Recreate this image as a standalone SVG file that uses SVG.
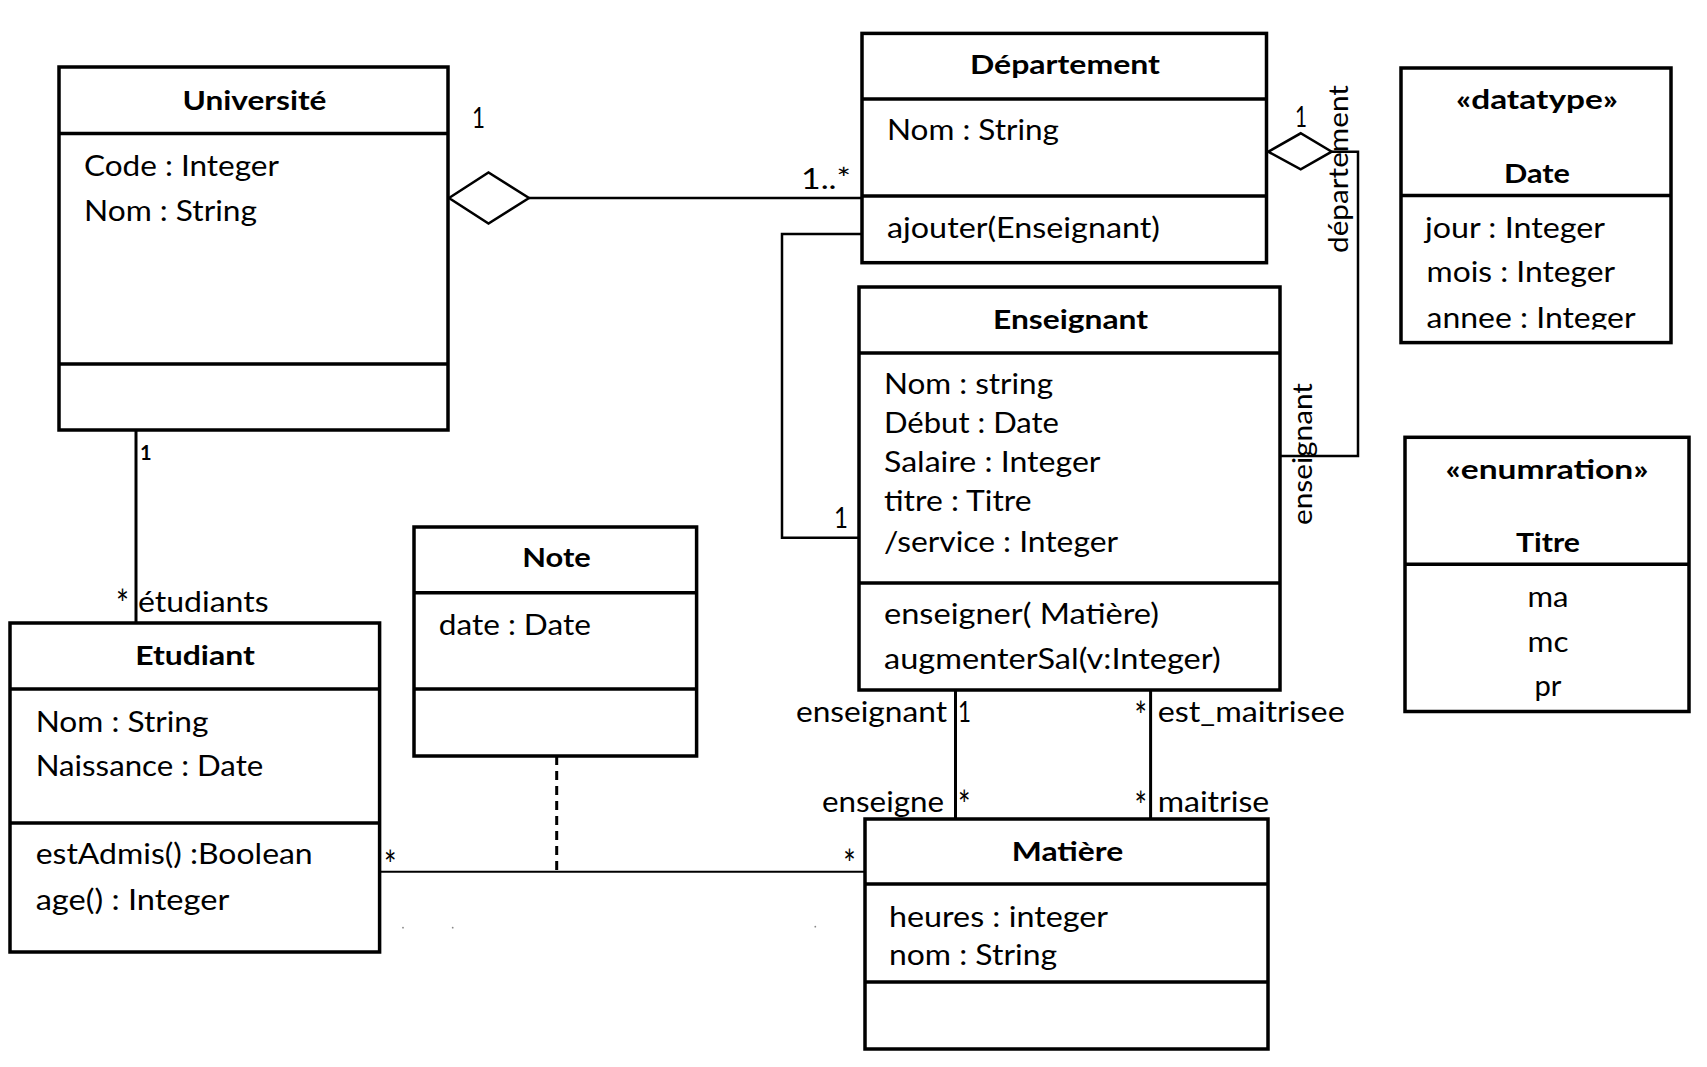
<svg xmlns="http://www.w3.org/2000/svg" width="1707" height="1067" viewBox="0 0 1707 1067">
<style>
.box{fill:#fff;stroke:#000;stroke-width:3.5}
.sep{stroke:#000;stroke-width:3.5;fill:none}
.t{font-family:Lato,'Liberation Sans',sans-serif;font-size:28px;fill:#000}
.b{font-weight:bold;font-size:27px}
.c{text-anchor:middle}
.e{text-anchor:end}
.star{font-size:38px}
.conn{fill:none;stroke:#000;stroke-width:2.5}
.dia{fill:#fff;stroke:#000;stroke-width:2.5}
.dash{fill:none;stroke:#000;stroke-width:3;stroke-dasharray:9 6}
</style>
<defs>
<clipPath id="dateClip"><rect x="1403" y="197" width="266" height="132.5"/></clipPath>
</defs>
<rect width="1707" height="1067" fill="#fff"/>

<g id="connectors">
  <!-- Université - Département aggregation -->
  <line class="conn" x1="529" y1="198" x2="862" y2="198"/>
  <polygon class="dia" points="449,198 488.5,172.5 529,198 488.5,223.5"/>
  <text class="t" x="472" y="128" textLength="13" lengthAdjust="spacingAndGlyphs">1</text>
  <text class="t" x="801" y="188.7" textLength="50" lengthAdjust="spacingAndGlyphs">1..*</text>
  <!-- Université - Etudiant -->
  <line class="conn" x1="136" y1="430" x2="136" y2="623" style="stroke-width:3"/>
  <text class="t" x="140" y="460" style="font-size:20px;font-weight:bold">1</text>
  <text class="t star" x="116" y="618" textLength="13" lengthAdjust="spacingAndGlyphs">*</text>
  <text class="t" x="138" y="612" textLength="130.6" lengthAdjust="spacingAndGlyphs">étudiants</text>
  <!-- Département ajouter - Enseignant -->
  <polyline class="conn" points="862,234 782,234 782,537.7 859,537.7"/>
  <text class="t" x="834" y="528" textLength="14" lengthAdjust="spacingAndGlyphs">1</text>
  <!-- Département diamond - Enseignant -->
  <polyline class="conn" points="1331.7,151.7 1358,151.7 1358,456 1280,456"/>
  <polygon class="dia" points="1268.3,151.7 1300.7,133.3 1331.7,151.7 1300.7,169.3"/>
  <text class="t" x="1295" y="126.7" textLength="12" lengthAdjust="spacingAndGlyphs">1</text>
  <text class="t c" transform="translate(1348,169) rotate(-90)" style="font-size:26px" textLength="168" lengthAdjust="spacingAndGlyphs">département</text>
  <text class="t c" transform="translate(1312,454) rotate(-90)" style="font-size:27px" textLength="142" lengthAdjust="spacingAndGlyphs">enseignant</text>
  <!-- Enseignant - Matière -->
  <line class="conn" x1="955.5" y1="690" x2="955.5" y2="819" style="stroke-width:3"/>
  <line class="conn" x1="1150.6" y1="690" x2="1150.6" y2="819" style="stroke-width:3"/>
  <text class="t e" x="947" y="722" textLength="151" lengthAdjust="spacingAndGlyphs">enseignant</text>
  <text class="t" x="958" y="722" textLength="13" lengthAdjust="spacingAndGlyphs">1</text>
  <text class="t e star" x="1147" y="730" textLength="12.5" lengthAdjust="spacingAndGlyphs">*</text>
  <text class="t" x="1157.7" y="722" textLength="187" lengthAdjust="spacingAndGlyphs">est_maitrisee</text>
  <text class="t e" x="944" y="811.7" textLength="122" lengthAdjust="spacingAndGlyphs">enseigne</text>
  <text class="t star" x="958" y="819" textLength="12.5" lengthAdjust="spacingAndGlyphs">*</text>
  <text class="t e star" x="1147" y="820" textLength="12.5" lengthAdjust="spacingAndGlyphs">*</text>
  <text class="t" x="1157.7" y="811.7" textLength="111.5" lengthAdjust="spacingAndGlyphs">maitrise</text>
  <!-- Etudiant - Matière with association class Note -->
  <line class="conn" x1="379.6" y1="871.7" x2="865" y2="871.7" style="stroke-width:2"/>
  <line class="dash" x1="556.7" y1="756" x2="556.7" y2="871.7"/>
  <text class="t star" x="384" y="878.7" textLength="12.5" lengthAdjust="spacingAndGlyphs">*</text>
  <text class="t e star" x="855.7" y="877.7" textLength="12.5" lengthAdjust="spacingAndGlyphs">*</text>
  <circle cx="403" cy="927.7" r="0.9" fill="#888"/>
  <circle cx="452.7" cy="927.7" r="0.9" fill="#888"/>
  <circle cx="815.3" cy="926.7" r="0.9" fill="#888"/>
</g>

<g id="universite">
  <rect class="box" x="59" y="67" width="389" height="363"/>
  <line class="sep" x1="59" y1="133.5" x2="448" y2="133.5"/>
  <line class="sep" x1="59" y1="364" x2="448" y2="364"/>
  <text class="t b c" x="254.5" y="109.5" textLength="144" lengthAdjust="spacingAndGlyphs">Université</text>
  <text class="t" x="84" y="175.6" textLength="195" lengthAdjust="spacingAndGlyphs">Code : Integer</text>
  <text class="t" x="84" y="221.4" textLength="173" lengthAdjust="spacingAndGlyphs">Nom : String</text>
</g>

<g id="departement">
  <rect class="box" x="862" y="33.4" width="404.5" height="229.3"/>
  <line class="sep" x1="862" y1="99" x2="1266.5" y2="99"/>
  <line class="sep" x1="862" y1="196" x2="1266.5" y2="196"/>
  <text class="t b c" x="1065" y="74" textLength="190" lengthAdjust="spacingAndGlyphs">Département</text>
  <text class="t" x="887" y="139.5" textLength="172" lengthAdjust="spacingAndGlyphs">Nom : String</text>
  <text class="t" x="887" y="237.6" textLength="273" lengthAdjust="spacingAndGlyphs">ajouter(Enseignant)</text>
</g>

<g id="date">
  <rect class="box" x="1401" y="68" width="270" height="274.6"/>
  <line class="sep" x1="1401" y1="195.6" x2="1671" y2="195.6"/>
  <text class="t b c" x="1537" y="108.5" textLength="162" lengthAdjust="spacingAndGlyphs">«datatype»</text>
  <text class="t b c" x="1537" y="182.5" textLength="66" lengthAdjust="spacingAndGlyphs">Date</text>
  <text class="t" x="1425" y="237.6" textLength="180" lengthAdjust="spacingAndGlyphs">jour : Integer</text>
  <text class="t" x="1426.6" y="282.4" textLength="188.6" lengthAdjust="spacingAndGlyphs">mois : Integer</text>
  <text class="t" x="1426.6" y="327.5" textLength="209" lengthAdjust="spacingAndGlyphs" clip-path="url(#dateClip)">annee : Integer</text>
</g>

<g id="enseignant">
  <rect class="box" x="859" y="287" width="421" height="403"/>
  <line class="sep" x1="859" y1="353" x2="1280" y2="353"/>
  <line class="sep" x1="859" y1="583" x2="1280" y2="583"/>
  <text class="t b c" x="1070.5" y="329" textLength="155" lengthAdjust="spacingAndGlyphs">Enseignant</text>
  <text class="t" x="884" y="394.3" textLength="169" lengthAdjust="spacingAndGlyphs">Nom : string</text>
  <text class="t" x="884" y="433.2" textLength="175" lengthAdjust="spacingAndGlyphs">Début : Date</text>
  <text class="t" x="884" y="471.8" textLength="216.5" lengthAdjust="spacingAndGlyphs">Salaire : Integer</text>
  <text class="t" x="884" y="511.4" textLength="147.6" lengthAdjust="spacingAndGlyphs">titre : Titre</text>
  <text class="t" x="884" y="552.3" textLength="234" lengthAdjust="spacingAndGlyphs">/service : Integer</text>
  <text class="t" x="884" y="624" textLength="275" lengthAdjust="spacingAndGlyphs">enseigner( Matière)</text>
  <text class="t" x="884" y="668.7" textLength="336.6" lengthAdjust="spacingAndGlyphs">augmenterSal(v:Integer)</text>
</g>

<g id="titre">
  <rect class="box" x="1405" y="437.3" width="284" height="274.2"/>
  <line class="sep" x1="1405" y1="564.2" x2="1689" y2="564.2"/>
  <text class="t b c" x="1547" y="478.6" textLength="203" lengthAdjust="spacingAndGlyphs">«enumration»</text>
  <text class="t b c" x="1548" y="552" textLength="64" lengthAdjust="spacingAndGlyphs">Titre</text>
  <text class="t c" x="1548" y="607" textLength="41" lengthAdjust="spacingAndGlyphs">ma</text>
  <text class="t c" x="1548" y="651.6" textLength="41" lengthAdjust="spacingAndGlyphs">mc</text>
  <text class="t c" x="1548" y="696" textLength="27" lengthAdjust="spacingAndGlyphs">pr</text>
</g>

<g id="etudiant">
  <rect class="box" x="10" y="623" width="369.6" height="329"/>
  <line class="sep" x1="10" y1="689" x2="379.6" y2="689"/>
  <line class="sep" x1="10" y1="823" x2="379.6" y2="823"/>
  <text class="t b c" x="195" y="664.6" textLength="119.6" lengthAdjust="spacingAndGlyphs">Etudiant</text>
  <text class="t" x="35.7" y="732" textLength="172.8" lengthAdjust="spacingAndGlyphs">Nom : String</text>
  <text class="t" x="35.7" y="775.9" textLength="227.6" lengthAdjust="spacingAndGlyphs">Naissance : Date</text>
  <text class="t" x="35.7" y="863.9" textLength="277" lengthAdjust="spacingAndGlyphs">estAdmis() :Boolean</text>
  <text class="t" x="35.7" y="909.5" textLength="193.6" lengthAdjust="spacingAndGlyphs">age() : Integer</text>
</g>

<g id="note">
  <rect class="box" x="414" y="527" width="282.6" height="229"/>
  <line class="sep" x1="414" y1="592.7" x2="696.6" y2="592.7"/>
  <line class="sep" x1="414" y1="689" x2="696.6" y2="689"/>
  <text class="t b c" x="556.5" y="567" textLength="68.6" lengthAdjust="spacingAndGlyphs">Note</text>
  <text class="t" x="438.8" y="634.5" textLength="152" lengthAdjust="spacingAndGlyphs">date : Date</text>
</g>

<g id="matiere">
  <rect class="box" x="865" y="819" width="403" height="230"/>
  <line class="sep" x1="865" y1="884" x2="1268" y2="884"/>
  <line class="sep" x1="865" y1="982" x2="1268" y2="982"/>
  <text class="t b c" x="1067.5" y="860.5" textLength="111.5" lengthAdjust="spacingAndGlyphs">Matière</text>
  <text class="t" x="889" y="927" textLength="219" lengthAdjust="spacingAndGlyphs">heures : integer</text>
  <text class="t" x="889" y="965" textLength="168" lengthAdjust="spacingAndGlyphs">nom : String</text>
</g>
</svg>
